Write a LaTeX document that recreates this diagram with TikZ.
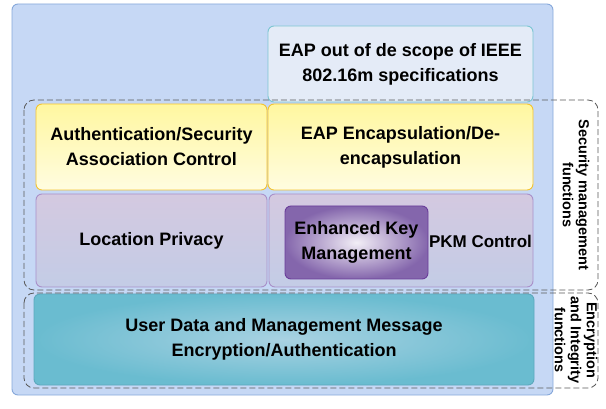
\documentclass[tikz,border=0pt]{standalone}
\usepackage{fontspec}
\setmainfont{Liberation Sans}
\usepackage{tikz}

\definecolor{skybg}{HTML}{C6D8F5}
\definecolor{skyline}{HTML}{86A8DA}
\definecolor{paleblue}{HTML}{E4EBF7}
\definecolor{cyanline}{HTML}{7CC6D2}
\definecolor{yelltop}{HTML}{FFF7A0}
\definecolor{yellbot}{HTML}{FFFCE0}
\definecolor{yellline}{HTML}{F4C430}
\definecolor{liltop}{HTML}{D4C9E0}
\definecolor{lilbot}{HTML}{C3CCE6}
\definecolor{lilline}{HTML}{A990C9}
\definecolor{plumin}{HTML}{F2EEF6}
\definecolor{plumout}{HTML}{8466AC}
\definecolor{plumline}{HTML}{6A3D9A}
\definecolor{tealin}{HTML}{A9D2E2}
\definecolor{tealout}{HTML}{6ABCD0}
\definecolor{tealline}{HTML}{5CA9BD}

\tikzset{
  box/.style={draw, rounded corners=6pt, line width=0.9pt, align=center,
    font=\fontsize{18}{25}\selectfont\bfseries, inner sep=0pt},
  yellbox/.style={box, draw=yellline, top color=yelltop, bottom color=yellbot},
  lilbox/.style={box, draw=lilline, top color=liltop, bottom color=lilbot},
  group/.style={draw=black!65, dash pattern=on 6pt off 3pt,
    rounded corners=10pt, line width=0.8pt},
  grouptext/.style={rotate=-90, align=center,
    font=\fontsize{14.5}{16}\selectfont\bfseries}
}

\begin{document}
\begin{tikzpicture}[x=1pt,y=-1pt]
    \useasboundingbox (0,0) rectangle (606,409);
    % background panel
    \node [box, draw=skyline, fill=skybg, minimum width=541pt,
      minimum height=391pt] (panel) at (282.5,199.5) {};
    \node [box, draw=cyanline, fill=paleblue, minimum width=265pt,
      minimum height=76pt] (eapout) at (400.5,64) {EAP out of de scope of IEEE\\802.16m specifications};
    % security management functions
    \node [yellbox, minimum width=231pt, minimum height=86pt] (authsa)
      at (151.5,147) {Authentication/Security\\Association Control};
    \node [yellbox, minimum width=265pt, minimum height=86pt] (eapenc)
      at (400.5,147) {EAP Encapsulation/De-\\encapsulation};
    \node [lilbox, minimum width=231pt, minimum height=93pt] (locpriv)
      at (151.5,240.5) {Location Privacy};
    \node [lilbox, minimum width=264pt, minimum height=93pt] (pkm)
      at (401,240.5) {};
    \node [box, draw=plumline, inner color=plumin, outer color=plumout,
      minimum width=143pt, minimum height=73pt] (ekm) at (356.5,242.5)
      {Enhanced Key\\Management};
    \node [font=\fontsize{17}{20}\selectfont\bfseries] (pkmctl)
      at (480.5,241) {PKM Control};
    % encryption and integrity
    \node [box, draw=tealline, inner color=tealin, outer color=tealout,
      minimum width=500pt, minimum height=91pt] (userdata) at (284,339.5)
      {User Data and Management Message\\Encryption/Authentication};
    % dashed groups
    \draw [group] (24,100) rectangle (598,290);
    \draw [group] (24,293) rectangle (598,388);
    \node [grouptext] (secfun) at (576,195) {Security management\\functions};
    \node [grouptext] (encfun) at (576,340) {Encryption\\and Integrity\\functions};
  \end{tikzpicture}
\end{document}
